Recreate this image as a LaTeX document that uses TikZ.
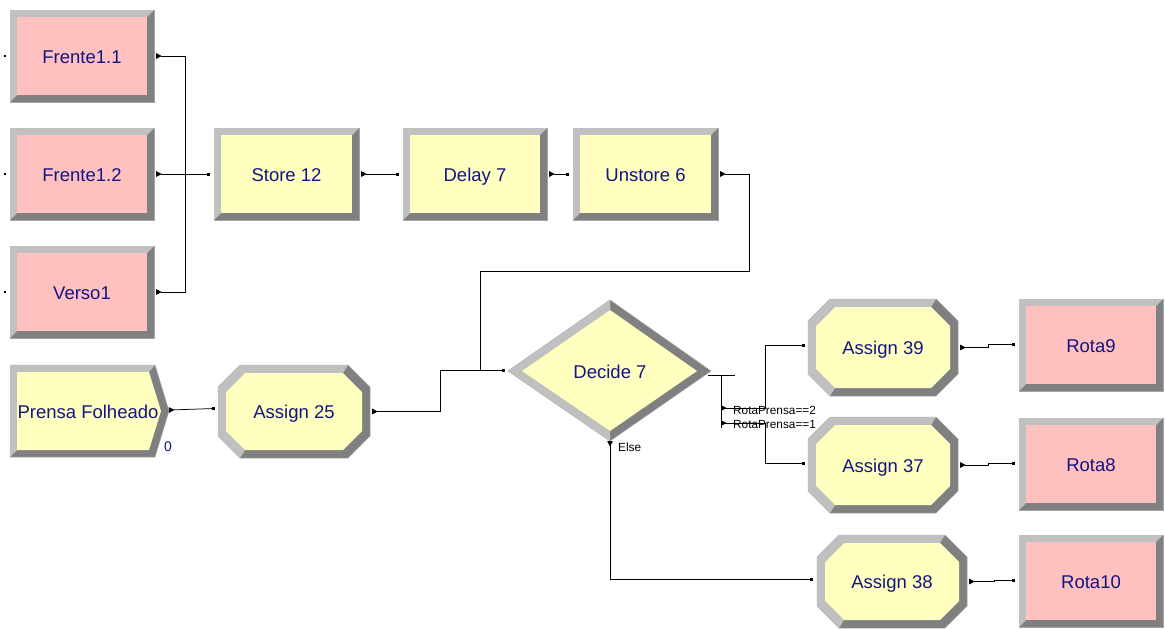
\documentclass[tikz,border=0pt]{standalone}
\usepackage{fontspec}
\setmainfont{Liberation Sans}
\usetikzlibrary{arrows.meta,calc}

\definecolor{srcpink}{RGB}{255,192,192}
\definecolor{procyel}{RGB}{255,255,192}
\definecolor{bevlight}{RGB}{192,192,192}
\definecolor{bevdark}{RGB}{128,128,128}
\definecolor{edgegray}{RGB}{165,165,165}
\definecolor{labelnavy}{RGB}{20,20,130}

\tikzset{
  modlabel/.style={inner sep=0pt, text=labelnavy, text height=16pt, text depth=2pt,
    font=\fontsize{18.5}{22}\selectfont},
  conn/.style={draw, line width=0.75pt,
    {Triangle[reversed,length=5.5pt,width=5.5pt]}-{Square[length=2.8pt,width=2.8pt]}},
  plainline/.style={draw, line width=0.75pt},
  entrydot/.style={rectangle, fill=black, minimum size=2.8pt, inner sep=0pt},
  branchlabel/.style={inner sep=0pt, anchor=west, font=\fontsize{11.8}{13}\selectfont},
}

% rectangular module with bevelled frame: name, x1, y1, x2, y2, fill, label
\newcommand\rectmod[7]{%
  \filldraw[fill=bevdark, draw=edgegray, line width=0.5pt] (#2,#3) rectangle (#4,#5);
  \fill[bevlight] (#2,#3) -- (#4,#3) -- (#4-7,#3+7) -- (#2+7,#3+7) -- (#2+7,#5-7) -- (#2,#5) -- cycle;
  \fill[#6] (#2+7,#3+7) rectangle (#4-7,#5-7);
  \node[modlabel, minimum width=#4-#2, minimum height=#5-#3] (#1) at ({(#2+#4)/2},{(#3+#5)/2}) {#7};
}

% octagonal (Assign) module: name, x1, y1, x2, y2, label
\newcommand\octmod[6]{%
  \filldraw[fill=bevdark, draw=edgegray, line width=0.5pt]
    (#2+22,#3) -- (#4-22,#3) -- (#4,#3+22) -- (#4,#5-22) -- (#4-22,#5) -- (#2+22,#5) -- (#2,#5-22) -- (#2,#3+22) -- cycle;
  \fill[bevlight]
    (#2+22,#5) -- (#2,#5-22) -- (#2,#3+22) -- (#2+22,#3) -- (#4-22,#3)
    -- (#4-27,#3+8) -- (#2+27,#3+8) -- (#2+8,#3+27) -- (#2+8,#5-27) -- (#2+27,#5-8) -- cycle;
  \fill[procyel]
    (#2+27,#3+8) -- (#4-27,#3+8) -- (#4-8,#3+27) -- (#4-8,#5-27) -- (#4-27,#5-8) -- (#2+27,#5-8) -- (#2+8,#5-27) -- (#2+8,#3+27) -- cycle;
  \node[modlabel, minimum width=#4-#2, minimum height=#5-#3] (#1) at ({(#2+#4)/2},{(#3+#5)/2}) {#6};
}

\begin{document}
\begin{tikzpicture}[x=1pt, y=-1pt]
\useasboundingbox (0,0) rectangle (1165,629);

% ---------- source modules ----------
\rectmod{fr11}{10}{10}{154}{102}{srcpink}{Frente1.1}
\rectmod{fr12}{10}{128}{154}{220}{srcpink}{Frente1.2}
\rectmod{vs1}{10}{246}{154}{338}{srcpink}{Verso1}
\node[entrydot] (fr11-in) at (5,56) {};
\node[entrydot] (fr12-in) at (5,174) {};
\node[entrydot] (vs1-in) at (5,292) {};

% ---------- store / delay / unstore ----------
\rectmod{st12}{214}{128}{359}{220}{procyel}{Store 12}
\rectmod{dl7}{403}{128}{547}{220}{procyel}{Delay 7}
\rectmod{us6}{573}{128}{718}{220}{procyel}{Unstore 6}

% ---------- create module ----------
\filldraw[fill=bevdark, draw=edgegray, line width=0.5pt]
  (10,365) -- (155,365) -- (169,411) -- (155,457) -- (10,457) -- cycle;
\fill[bevlight] (10,457) -- (10,365) -- (155,365) -- (149,372) -- (17,372) -- (17,450) -- cycle;
\fill[procyel] (17,372) -- (149,372) -- (161,411) -- (149,450) -- (17,450) -- cycle;
\node[modlabel] (pf) at (88,411) {Prensa Folheado};
\coordinate (pf-out) at (169,410);
\node[inner sep=0pt, text=labelnavy, font=\fontsize{14}{16}\selectfont] (pf-count) at (168,447) {0};

% ---------- assign 25 ----------
\octmod{a25}{218}{365}{370}{458}{Assign 25}

% ---------- decide ----------
\filldraw[fill=bevdark, draw=edgegray, line width=0.5pt]
  (508,371) -- (610,300) -- (711,371) -- (610,441) -- cycle;
\fill[bevlight] (610,300) -- (508,371) -- (610,441) -- (610,431) -- (522,371) -- (610,310) -- cycle;
\fill[procyel] (522,371) -- (610,310) -- (697,371) -- (610,431) -- cycle;
\node[modlabel] (dec) at (610,371) {Decide 7};
\coordinate (dec-in) at (505,370);
\coordinate (dec-r) at (708,375);
\coordinate (dec-out2) at (721,408);
\coordinate (dec-out1) at (721,423);
\coordinate (dec-else) at (610,441);

% ---------- assign 39/37/38 and routes ----------
\octmod{a39}{808}{299}{958}{396}{Assign 39}
\octmod{a37}{808}{417}{958}{513}{Assign 37}
\octmod{a38}{817}{535}{967}{628}{Assign 38}
\rectmod{r9}{1019}{299}{1163}{391}{srcpink}{Rota9}
\rectmod{r8}{1019}{418}{1163}{510}{srcpink}{Rota8}
\rectmod{r10}{1019}{535}{1163}{627}{srcpink}{Rota10}

% ---------- connectors ----------
\draw[conn] ($(fr11.east)+(2,0)$) -- ++(29,0) |- ($(st12.west)+(-4,0)$);
\draw[conn] ($(fr12.east)+(2,0)$) -- ($(st12.west)+(-4,0)$);
\draw[conn] ($(vs1.east)+(2,0)$) -- ++(29,0) |- ($(st12.west)+(-4,0)$);
\draw[conn] ($(st12.east)+(2,0)$) -- ($(dl7.west)+(-4,0)$);
\draw[conn] ($(dl7.east)+(2,0)$) -- ($(us6.west)+(-4,0)$);
\draw[conn] ($(us6.east)+(2,0)$) -- ++(29,0) -- ++(0,97) -| ($(dec-in)+(-25,0)$) -- (dec-in);
\draw[conn] (pf-out) -- ($(a25.west)+(-3,-3)$);
\draw[conn] ($(a25.east)+(2,0)$) -- ++(68,0) |- (dec-in);

% decide exit bracket
\draw[plainline] (dec-r) -- ++(27,0);
\draw[plainline] ($(dec-r)+(13,0)$) -- ++(0,53);
\draw[conn] (dec-out2) -- ++(44,0) |- ($(a39.west)+(-3,-2)$);
\draw[conn] (dec-out1) -- ++(44,0) |- ($(a37.west)+(-3,-2)$);
\node[branchlabel] (lab2) at (733,410) {RotaPrensa==2};
\node[branchlabel] (lab1) at (733,424) {RotaPrensa==1};
\draw[conn] (dec-else) |- ($(a38.west)+(-4,-2)$);
\node[branchlabel] (labelse) at (618,447) {Else};

\draw[conn] ($(a39.east)+(2,0)$) -- ++(28,0) |- ($(r9.west)+(-4,-1)$);
\draw[conn] ($(a37.east)+(2,0)$) -- ++(28,0) |- ($(r8.west)+(-4,-1)$);
\draw[conn] ($(a38.east)+(2,0)$) -- ++(25,0) |- ($(r10.west)+(-4,-1)$);
\end{tikzpicture}
\end{document}
